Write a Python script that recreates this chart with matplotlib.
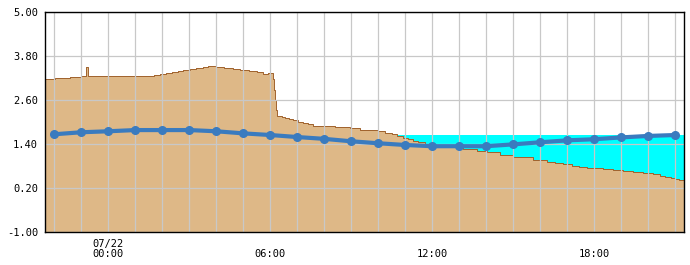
import matplotlib
matplotlib.use("Agg")
import matplotlib.pyplot as plt
import numpy as np

# hours relative to 07/22 00:00
ground_h = [-2.34, -1.97, -1.79, -1.42, -0.99, -0.83, -0.73, 1.69, 1.91, 2.14,
            2.35, 2.59, 2.78, 3.03, 3.25, 3.50, 3.70, 3.99, 4.29, 4.61,
            4.88, 5.22, 5.52, 5.72, 5.93, 6.09, 6.14, 6.17, 6.21, 6.26,
            6.42, 6.54, 6.70, 6.85, 7.04, 7.20, 7.41, 7.59, 8.40, 8.95,
            9.32, 10.00, 10.25, 10.50, 10.69, 10.91, 11.10, 11.29, 11.47, 11.73,
            12.20, 12.65, 13.14, 13.64, 14.01, 14.51, 14.99, 15.73, 16.24, 16.54,
            16.85, 17.16, 17.44, 17.74, 18.03, 18.33, 18.68, 19.05, 19.44, 19.81,
            20.19, 20.43, 20.62, 20.83, 20.99, 21.15, 21.32]
ground_v = [3.17, 3.19, 3.21, 3.23, 3.25, 3.50, 3.25, 3.28, 3.31, 3.34,
            3.36, 3.39, 3.42, 3.44, 3.46, 3.49, 3.52, 3.49, 3.46, 3.44,
            3.42, 3.39, 3.36, 3.31, 3.34, 3.17, 2.87, 2.60, 2.33, 2.16,
            2.13, 2.10, 2.07, 2.05, 2.01, 1.98, 1.94, 1.89, 1.86, 1.83,
            1.78, 1.75, 1.71, 1.67, 1.62, 1.57, 1.53, 1.48, 1.45, 1.41,
            1.38, 1.35, 1.26, 1.21, 1.17, 1.10, 1.04, 0.97, 0.90, 0.87,
            0.85, 0.81, 0.78, 0.75, 0.74, 0.71, 0.68, 0.66, 0.63, 0.60,
            0.57, 0.54, 0.51, 0.48, 0.45, 0.41, 0.39]

level_h = list(range(-2, 22))
level_v = [1.665, 1.72, 1.747, 1.78, 1.78, 1.78, 1.747, 1.69, 1.645, 1.59,
           1.54, 1.474, 1.42, 1.373, 1.34, 1.34, 1.34, 1.39, 1.447, 1.50,
           1.53, 1.58, 1.62, 1.645]

water_top = 1.645

y_ticks = [-1.00, 0.20, 1.40, 2.60, 3.80, 5.00]
x_ticks = [0, 6, 12, 18]
x_labels = ["07/22\n00:00", "\n06:00", "\n12:00", "\n18:00"]

xmin, xmax = -2.34, 21.32

fig = plt.figure(figsize=(6.9, 2.65), dpi=100)
ax = fig.add_axes([45 / 690, 1 - 232 / 265, 639 / 690, 220 / 265])

ax.fill_between([xmin, xmax], -1, water_top, color="#00FFFF", lw=0, zorder=1)
ax.fill_between(ground_h, ground_v, -1, step="post", color="#DEB887", lw=0, zorder=2)
ax.step(ground_h, ground_v, where="post", color="#A0622D", lw=0.7, zorder=3)

for h in range(-2, 22):
    ax.axvline(h, color="#C8C8C8", lw=0.9, zorder=4)
for y in y_ticks:
    ax.axhline(y, color="#C8C8C8", lw=0.9, zorder=4)

ax.plot(level_h, level_v, color="#3A7BBF", lw=3, marker="o", ms=5.5, zorder=5)

ax.set_xlim(xmin, xmax)
ax.set_ylim(-1, 5)
ax.set_yticks(y_ticks)
ax.set_yticklabels(["%.2f" % v for v in y_ticks])
ax.set_xticks(x_ticks)
ax.set_xticklabels(x_labels, linespacing=0.95)
ax.tick_params(length=0, labelsize=7.5, pad=5)
for lab in ax.get_xticklabels() + ax.get_yticklabels():
    lab.set_family("DejaVu Sans Mono")
for s in ax.spines.values():
    s.set_color("black")
    s.set_linewidth(1)
    s.set_zorder(6)

fig.savefig("out.png", dpi=100)
